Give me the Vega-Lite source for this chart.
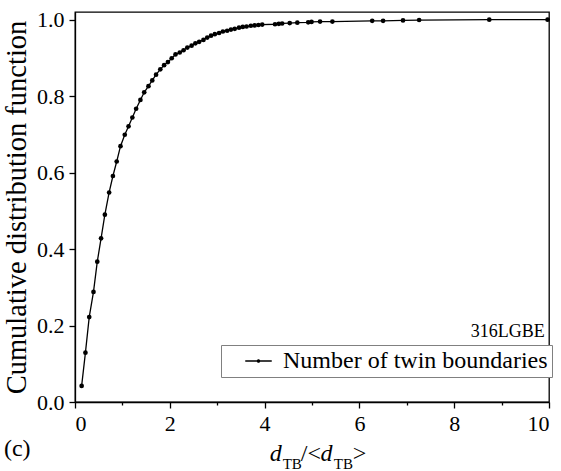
{
  "$schema": "https://vega.github.io/schema/vega-lite/v6.json",
  "width": 474,
  "height": 390,
  "autosize": {"type": "none"},
  "padding": {"left": 75, "top": 12, "right": 12, "bottom": 69},
  "config": {
    "view": {"stroke": "black", "strokeWidth": 1.3},
    "font": "Liberation Serif, serif",
    "text": {"font": "Liberation Serif, serif"},
    "axis": {
      "domainColor": "black", "domainWidth": 1.3, "tickColor": "black", "tickWidth": 1.3,
      "labelFont": "Liberation Serif, serif", "labelFontSize": 22, "labelColor": "black",
      "titleFont": "Liberation Serif, serif", "titleFontWeight": "normal", "titleColor": "black", "grid": false
    }
  },
  "datasets": {
    "cdf": [
      {"d": 0.14, "cdf": 0.042}, {"d": 0.22, "cdf": 0.129}, {"d": 0.30, "cdf": 0.222}, {"d": 0.39, "cdf": 0.288},
      {"d": 0.47, "cdf": 0.367}, {"d": 0.55, "cdf": 0.428}, {"d": 0.63, "cdf": 0.490}, {"d": 0.72, "cdf": 0.548},
      {"d": 0.80, "cdf": 0.591}, {"d": 0.88, "cdf": 0.629}, {"d": 0.96, "cdf": 0.669}, {"d": 1.05, "cdf": 0.699},
      {"d": 1.13, "cdf": 0.721}, {"d": 1.21, "cdf": 0.744}, {"d": 1.29, "cdf": 0.767}, {"d": 1.38, "cdf": 0.790},
      {"d": 1.46, "cdf": 0.810}, {"d": 1.55, "cdf": 0.826}, {"d": 1.63, "cdf": 0.841}, {"d": 1.71, "cdf": 0.856},
      {"d": 1.80, "cdf": 0.870}, {"d": 1.88, "cdf": 0.881}, {"d": 1.96, "cdf": 0.889}, {"d": 2.04, "cdf": 0.899},
      {"d": 2.12, "cdf": 0.909}, {"d": 2.21, "cdf": 0.914}, {"d": 2.29, "cdf": 0.920}, {"d": 2.37, "cdf": 0.927},
      {"d": 2.46, "cdf": 0.932}, {"d": 2.54, "cdf": 0.938}, {"d": 2.62, "cdf": 0.942}, {"d": 2.71, "cdf": 0.947},
      {"d": 2.79, "cdf": 0.953}, {"d": 2.87, "cdf": 0.958}, {"d": 2.95, "cdf": 0.962}, {"d": 3.04, "cdf": 0.965},
      {"d": 3.12, "cdf": 0.969}, {"d": 3.21, "cdf": 0.971}, {"d": 3.29, "cdf": 0.974}, {"d": 3.37, "cdf": 0.976},
      {"d": 3.46, "cdf": 0.979}, {"d": 3.54, "cdf": 0.981}, {"d": 3.62, "cdf": 0.982}, {"d": 3.71, "cdf": 0.984},
      {"d": 3.79, "cdf": 0.985}, {"d": 3.87, "cdf": 0.986}, {"d": 3.95, "cdf": 0.987}, {"d": 4.22, "cdf": 0.988},
      {"d": 4.30, "cdf": 0.989}, {"d": 4.37, "cdf": 0.990}, {"d": 4.53, "cdf": 0.991}, {"d": 4.69, "cdf": 0.992},
      {"d": 4.92, "cdf": 0.993}, {"d": 4.99, "cdf": 0.994}, {"d": 5.17, "cdf": 0.995}, {"d": 5.43, "cdf": 0.995},
      {"d": 6.27, "cdf": 0.997}, {"d": 6.50, "cdf": 0.997}, {"d": 6.92, "cdf": 0.998}, {"d": 7.26, "cdf": 0.999},
      {"d": 8.74, "cdf": 1.0}, {"d": 9.97, "cdf": 1.0}
    ],
    "one": [{}]
  },
  "layer": [
    {
      "data": {"name": "cdf"},
      "mark": {"type": "line", "strokeWidth": 1.3, "clip": false, "point": {"filled": true, "size": 22, "opacity": 1}},
      "encoding": {
        "x": {
          "field": "d", "type": "quantitative",
          "scale": {"domain": [0, 10], "nice": false},
          "axis": {
            "values": [0, 1, 2, 3, 4, 5, 6, 7, 8, 9, 10],
            "format": "d",
            "labelExpr": "datum.value % 2 == 0 ? datum.label : ''",
            "labelFont": "Liberation Serif, serif", "labelFontSize": 22,
            "tickSize": {"condition": {"test": "datum.value % 2 == 1", "value": 3}, "value": 6},
            "labelPadding": 5,
            "title": null
          }
        },
        "y": {
          "field": "cdf", "type": "quantitative",
          "scale": {"domain": [0, 1.02], "nice": false},
          "axis": {
            "values": [0, 0.1, 0.2, 0.3, 0.4, 0.5, 0.6, 0.7, 0.8, 0.9, 1.0],
            "format": ".1f",
            "labelExpr": "round(datum.value * 10) % 2 == 0 ? datum.label : ''",
            "labelFont": "Liberation Serif, serif", "labelFontSize": 22,
            "tickSize": {"condition": {"test": "round(datum.value * 10) % 2 == 1", "value": 3}, "value": 6},
            "labelPadding": 5,
            "title": "Cumulative distribution function",
            "titleFont": "Liberation Serif, serif",
            "titleFontSize": 28.5,
            "titlePadding": 5
          }
        },
        "color": {
          "datum": "Number of twin boundaries", "type": "nominal",
          "scale": {"range": ["black"]},
          "legend": {
            "orient": "none", "legendX": 146, "legendY": 333, "title": null,
            "strokeColor": "#808080", "fillColor": "white", "padding": 4,
            "symbolType": "M-2.65,0H2.65M-0.23,0A0.23,0.23,0,1,1,0.23,0A0.23,0.23,0,1,1,-0.23,0Z",
            "symbolSize": 100, "symbolStrokeWidth": 1.3, "symbolOffset": 21.5,
            "labelFont": "Liberation Serif, serif", "labelFontSize": 24, "labelColor": "black",
            "labelOffset": 12.5, "labelLimit": 400,
            "encode": {"symbols": {"update": {"fill": {"value": "black"}, "stroke": {"value": "black"}, "opacity": {"value": 1}}}}
          }
        }
      }
    },
    {
      "data": {"name": "one"},
      "mark": {"type": "text", "align": "left", "baseline": "alphabetic", "fontSize": 24, "color": "black"},
      "encoding": {"x": {"datum": -1.5}, "y": {"datum": -0.141}, "text": {"value": "(c)"}}
    },
    {
      "data": {"name": "one"},
      "mark": {"type": "text", "align": "right", "baseline": "alphabetic", "fontSize": 18, "color": "black"},
      "encoding": {"x": {"datum": 9.91}, "y": {"datum": 0.17}, "text": {"value": "316LGBE"}}
    },
    {
      "data": {"name": "one"},
      "mark": {"type": "text", "align": "left", "baseline": "alphabetic", "fontSize": 24, "fontStyle": "italic", "color": "black"},
      "encoding": {"x": {"datum": 4.107}, "y": {"datum": -0.1545}, "text": {"value": "d"}}
    },
    {
      "data": {"name": "one"},
      "mark": {"type": "text", "align": "left", "baseline": "alphabetic", "fontSize": 15, "color": "black"},
      "encoding": {"x": {"datum": 4.382}, "y": {"datum": -0.175}, "text": {"value": "TB"}}
    },
    {
      "data": {"name": "one"},
      "mark": {"type": "text", "align": "left", "baseline": "alphabetic", "fontSize": 24, "color": "black"},
      "encoding": {"x": {"datum": 4.762}, "y": {"datum": -0.1545}, "text": {"value": "/<"}}
    },
    {
      "data": {"name": "one"},
      "mark": {"type": "text", "align": "left", "baseline": "alphabetic", "fontSize": 24, "fontStyle": "italic", "color": "black"},
      "encoding": {"x": {"datum": 5.18}, "y": {"datum": -0.1545}, "text": {"value": "d"}}
    },
    {
      "data": {"name": "one"},
      "mark": {"type": "text", "align": "left", "baseline": "alphabetic", "fontSize": 15, "color": "black"},
      "encoding": {"x": {"datum": 5.46}, "y": {"datum": -0.175}, "text": {"value": "TB"}}
    },
    {
      "data": {"name": "one"},
      "mark": {"type": "text", "align": "left", "baseline": "alphabetic", "fontSize": 24, "color": "black"},
      "encoding": {"x": {"datum": 5.86}, "y": {"datum": -0.1545}, "text": {"value": ">"}}
    }
  ]
}
